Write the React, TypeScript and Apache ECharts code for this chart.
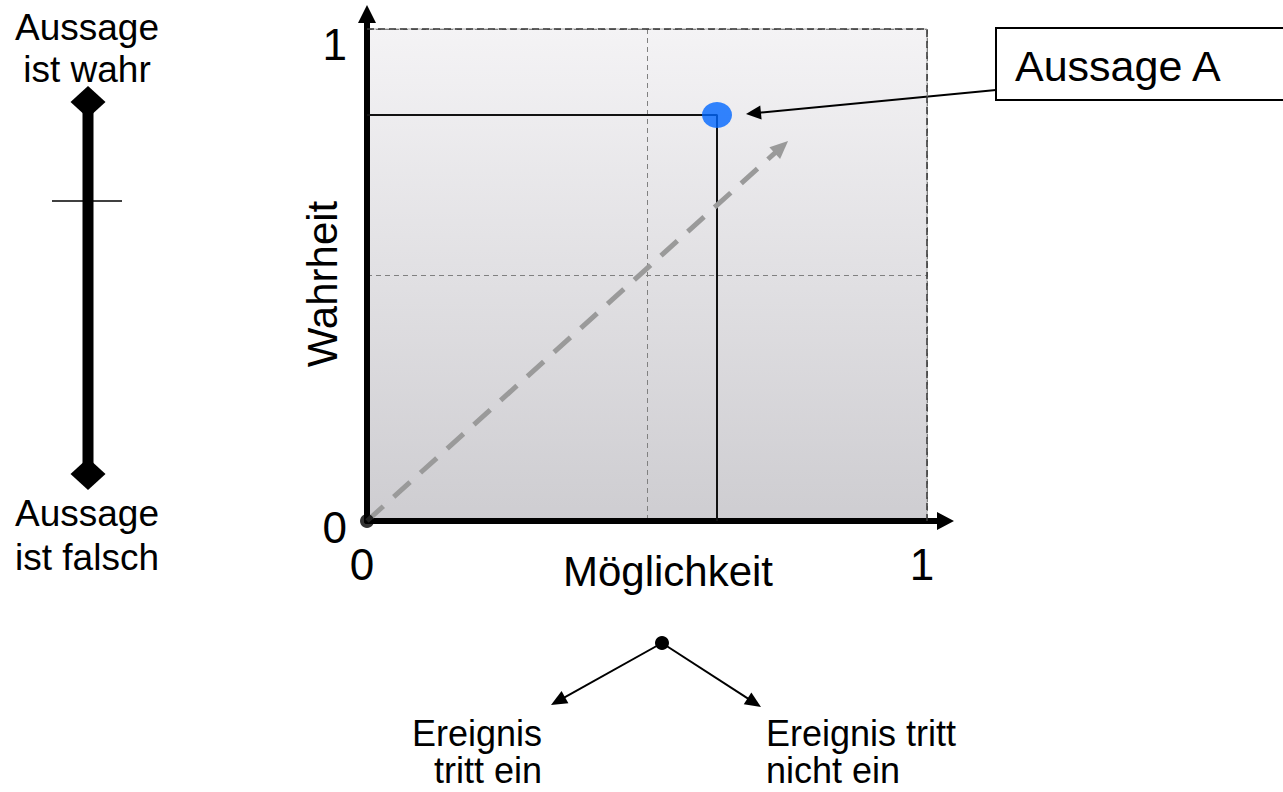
import { useEffect, useRef } from 'react';
import * as echarts from 'echarts';

const FONT = '"Liberation Sans", Arial, Helvetica, sans-serif';

// ---- data ----
const axisTicks = [0, 0.5, 1];
const xTickLabels = ['0', '', '1'];
const yTickLabels = ['0', '', '1'];
const xAxisName = 'Möglichkeit';
const yAxisName = 'Wahrheit';
const pointA = [0.625, 0.825];
const originPoint = [0, 0];
const diagonalStart = [0, 0];
const diagonalEnd = [0.74, 0.76];
const frameCorners = [[0, 1], [1, 1], [1, 0]];
const calloutText = 'Aussage A';
const scaleTopLines = ['Aussage', 'ist wahr'];
const scaleBottomLines = ['Aussage', 'ist falsch'];
const eventLeftLines = ['Ereignis', 'tritt ein'];
const eventRightLines = ['Ereignis tritt', 'nicht ein'];

function arrow(x1: number, y1: number, x2: number, y2: number, len: number, w: number, lw: number) {
  const dx = x2 - x1, dy = y2 - y1;
  const d = Math.sqrt(dx * dx + dy * dy);
  const ux = dx / d, uy = dy / d;
  const bx = x2 - ux * len, by = y2 - uy * len;
  const px = -uy, py = ux;
  return [
    { type: 'line', shape: { x1, y1, x2: bx + ux * 2, y2: by + uy * 2 }, style: { stroke: '#000', lineWidth: lw }, silent: true },
    {
      type: 'polygon',
      shape: { points: [[x2, y2], [bx + px * w / 2, by + py * w / 2], [bx - px * w / 2, by - py * w / 2]] },
      style: { fill: '#000' },
      silent: true,
    },
  ];
}

function textEl(x: number, y: number, text: string, size: number, align: string, lineHeight?: number) {
  return {
    type: 'text',
    x,
    y,
    style: { text, fontSize: size, fontFamily: FONT, fill: '#000', align, verticalAlign: 'middle', lineHeight: lineHeight ?? size },
    silent: true,
  };
}

function diamond(cx: number, cy: number, hw: number, hh: number) {
  return {
    type: 'polygon',
    shape: { points: [[cx, cy - hh], [cx + hw, cy], [cx, cy + hh], [cx - hw, cy]] },
    style: { fill: '#000' },
    silent: true,
  };
}

export default function App() {
  const ref = useRef<HTMLDivElement>(null);
  useEffect(() => {
    if (!ref.current) return;
    const chart = echarts.init(ref.current, undefined, { renderer: 'svg' });
    const labelFor = (labels: string[]) => (v: number) => {
      const i = axisTicks.findIndex((t) => Math.abs(t - v) < 1e-9);
      return i >= 0 ? labels[i] : '';
    };
    const graphics: any[] = [
      // left scale
      { type: 'rect', shape: { x: 82.5, y: 102, width: 11, height: 372 }, style: { fill: '#000' }, silent: true },
      diamond(88, 102, 17.5, 16),
      diamond(88, 474, 17.5, 16),
      { type: 'line', shape: { x1: 52, y1: 201, x2: 122, y2: 201 }, style: { stroke: '#000', lineWidth: 1.5 }, silent: true },
      textEl(87, 48, scaleTopLines.join('\n'), 37, 'center', 42),
      textEl(87, 535, scaleBottomLines.join('\n'), 37, 'center', 44),
      // callout
      { type: 'rect', shape: { x: 996, y: 28, width: 320, height: 72 }, style: { fill: '#fff', stroke: '#000', lineWidth: 2 }, silent: true },
      textEl(1015, 66, calloutText, 43, 'left'),
      ...arrow(996, 90, 746, 114, 15, 14, 2),
      // event tree
      ...arrow(662, 643, 551, 705, 16, 14, 2),
      ...arrow(662, 643, 761, 707, 16, 14, 2),
      { type: 'circle', shape: { cx: 662, cy: 643, r: 7 }, style: { fill: '#000' }, silent: true },
      textEl(542, 752, eventLeftLines.join('\n'), 36, 'right', 37),
      textEl(766, 752, eventRightLines.join('\n'), 36, 'left', 37),
    ];

    chart.setOption({
      animation: false,
      grid: {
        left: 367,
        top: 29,
        width: 560,
        height: 492,
        show: true,
        borderColor: '#a8a8a8',
        borderWidth: 1,
        backgroundColor: {
          type: 'linear', x: 0, y: 0, x2: 0, y2: 1,
          colorStops: [
            { offset: 0, color: '#f4f3f5' },
            { offset: 1, color: '#cecdd1' },
          ],
        },
      },
      xAxis: {
        type: 'value',
        min: 0,
        max: 1,
        interval: 0.5,
        name: xAxisName,
        nameLocation: 'middle',
        nameGap: 50,
        nameMoveOverlap: false,
        nameTextStyle: { fontSize: 42, fontFamily: FONT, color: '#000', align: 'center', verticalAlign: 'middle', padding: [0, 0, 0, 42] },
        axisLine: {
          show: true,
          onZero: false,
          lineStyle: { color: '#000', width: 6 },
          symbol: ['none', 'path://M0,0 L9,17 L3,17 L3,27 L-3,27 L-3,17 L-9,17 Z'],
          symbolSize: [18, 27],
          symbolOffset: [0, 13.5],
        },
        axisTick: { show: false },
        splitLine: { show: true, lineStyle: { color: '#808080', width: 1, type: [5, 4] } },
        axisLabel: {
          formatter: labelFor(xTickLabels),
          fontSize: 44,
          fontFamily: FONT,
          color: '#000',
          margin: 21,
          padding: [0, 10, 0, 0],
        },
      },
      yAxis: {
        type: 'value',
        min: 0,
        max: 1,
        interval: 0.5,
        name: yAxisName,
        nameLocation: 'middle',
        nameGap: 44.5,
        nameMoveOverlap: false,
        nameTextStyle: { fontSize: 42, fontFamily: FONT, color: '#000', align: 'center', verticalAlign: 'middle', padding: [0, 18, 0, 0] },
        axisLine: {
          show: true,
          onZero: false,
          lineStyle: { color: '#000', width: 6 },
          symbol: ['none', 'path://M0,0 L9,18 L3,18 L3,24 L-3,24 L-3,18 L-9,18 Z'],
          symbolSize: [18, 24],
          symbolOffset: [0, 12],
        },
        axisTick: { show: false },
        splitLine: { show: true, lineStyle: { color: '#808080', width: 1, type: [5, 4] } },
        axisLabel: {
          formatter: (v: number) => {
            const s = labelFor(yTickLabels)(v);
            if (!s) return '';
            return v === 1 ? '{hi|' + s + '}' : '{lo|' + s + '}';
          },
          margin: 20,
          rich: {
            hi: { fontSize: 44, fontFamily: FONT, color: '#000', padding: [30, 0, 0, 0] },
            lo: { fontSize: 44, fontFamily: FONT, color: '#000', padding: [13, 0, 0, 0] },
          },
        },
      },
      series: [
        {
          type: 'line',
          data: frameCorners,
          symbol: 'none',
          clip: false,
          silent: true,
          lineStyle: { color: '#3a3a3a', width: 1.5, type: [7, 4] },
          z: 1,
        },
        {
          type: 'line',
          data: [[0, pointA[1]], pointA, [pointA[0], 0]],
          symbol: 'none',
          silent: true,
          lineStyle: { color: '#111', width: 2 },
          markLine: {
            silent: true,
            animation: false,
            symbol: ['none', 'triangle'],
            symbolSize: [16, 18],
            label: { show: false },
            lineStyle: { color: '#9a9a9a', width: 5, type: [22, 14] },
            data: [[{ coord: diagonalStart }, { coord: diagonalEnd }]],
          },
          z: 3,
        },
        {
          type: 'scatter',
          data: [pointA],
          symbol: 'circle',
          symbolSize: [30, 26],
          itemStyle: { color: '#0066ff' },
          silent: true,
          z: 5,
        },
        {
          type: 'scatter',
          data: [originPoint],
          symbol: 'circle',
          symbolSize: 14,
          itemStyle: { color: '#000' },
          silent: true,
          z: 5,
        },
      ],
      graphic: graphics,
    });
    return () => chart.dispose();
  }, []);
  return <div ref={ref} style={{ position: 'absolute', left: 0, top: 0, width: 1283, height: 792 }} />;
}
